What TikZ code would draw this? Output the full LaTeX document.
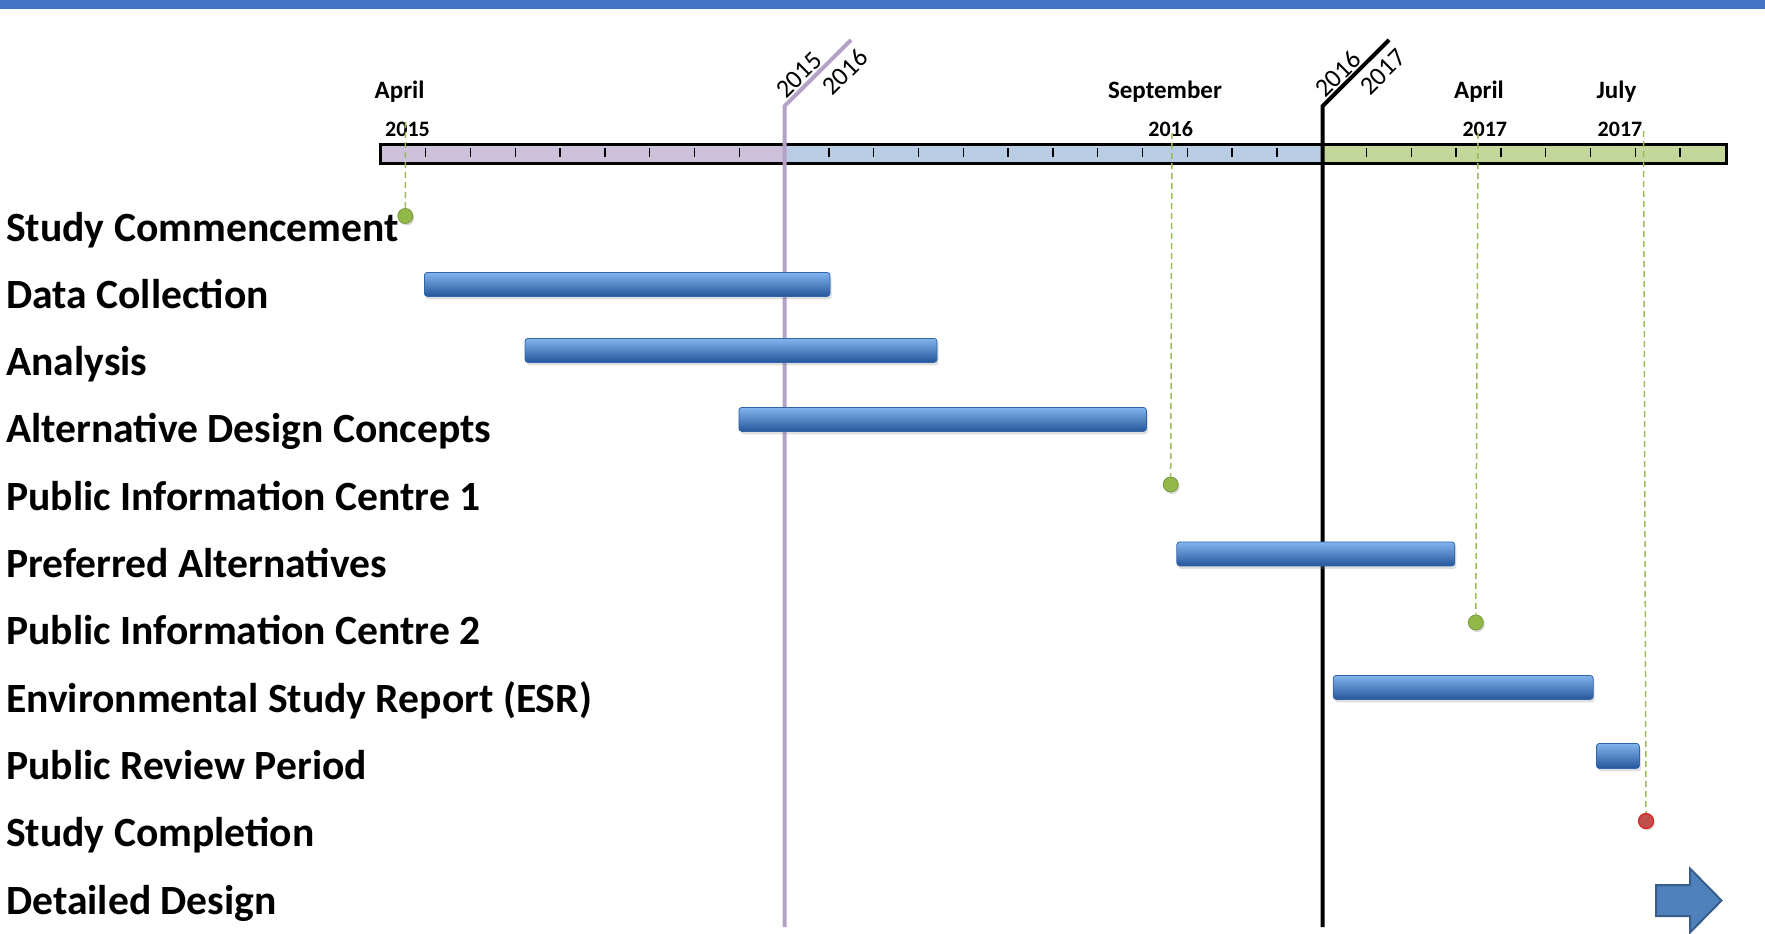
\documentclass[tikz,border=0pt]{standalone}
\usepackage{fontspec}
\setmainfont{Carlito}
\usetikzlibrary{shadows}
\definecolor{stripe}{HTML}{4472C4}
\definecolor{tlpurple}{HTML}{CCC0DA}
\definecolor{tlblue}{HTML}{B8CCE4}
\definecolor{tlgreen}{HTML}{C4D79B}
\definecolor{yrpurple}{HTML}{B3A2C7}
\definecolor{msgreen}{HTML}{92B84A}
\definecolor{msgreendk}{HTML}{76993A}
\definecolor{dashgreen}{HTML}{9BBB59}
\definecolor{msred}{HTML}{C0504D}
\definecolor{msreddk}{HTML}{E02020}
\definecolor{bartop}{RGB}{130,180,238}
\definecolor{barmid}{RGB}{75,135,205}
\definecolor{barbot}{RGB}{38,86,155}
\definecolor{barline}{RGB}{50,100,170}
\definecolor{arrfill}{HTML}{4F81BD}
\definecolor{arrline}{HTML}{385D8A}
\begin{document}
\begin{tikzpicture}[x=1pt,y=-1pt,
  lab/.style={font=\fontsize{41.6}{41.6}\selectfont\bfseries, inner sep=0pt, anchor=base west},
  month/.style={font=\fontsize{25}{25}\selectfont\bfseries, inner sep=0pt},
  yearlab/.style={font=\fontsize{22}{22}\selectfont\bfseries, inner sep=0pt},
  diag/.style={font=\fontsize{26}{26}\selectfont, inner sep=0pt, rotate=45},
  ganttbar/.style={draw=barline, line width=0.8pt, rounded corners=3pt, top color=bartop, middle color=barmid, bottom color=barbot, shading angle=0, inner sep=0pt, anchor=north west, minimum height=24pt,
    drop shadow={shadow xshift=1.5pt, shadow yshift=-3pt, opacity=0.25}},
  msdot/.style={circle, fill=msgreen, draw=msgreendk, line width=0.8pt, minimum size=15pt, inner sep=0pt,
    drop shadow={shadow xshift=1.5pt, shadow yshift=-2pt, opacity=0.3}},
  msend/.style={circle, fill=msred, draw=msreddk, line width=1.2pt, minimum size=15pt, inner sep=0pt,
    drop shadow={shadow xshift=1.5pt, shadow yshift=-2pt, opacity=0.3}},
  guide/.style={draw=dashgreen, line width=1.5pt, dash pattern=on 6pt off 4pt},
  tick/.style={line width=1.3pt}
]
\useasboundingbox (0,0) rectangle (1765,934);
% top stripe
\fill[stripe] (0,0) rectangle (1765,9);

% timeline bar
\fill[tlpurple] (380,144) rectangle (784,163);
\fill[tlblue] (784,144) rectangle (1322,163);
\fill[tlgreen] (1322,144) rectangle (1726,163);
\foreach \m in {1,...,8} {\draw[tick] ({380.9+44.8*\m},148) -- ({380.9+44.8*\m},157);}
\foreach \m in {10,...,20} {\draw[tick] ({380.9+44.8*\m},148) -- ({380.9+44.8*\m},157);}
\foreach \m in {22,...,29} {\draw[tick] ({380.9+44.8*\m},148) -- ({380.9+44.8*\m},157);}
\draw[line width=3pt] (380,144) rectangle (1726,163);

% month / year labels
\node[month] (mApr15) at (399.6,92) {April};
\node[yearlab] (yApr15) at (407.5,129.5) {2015};
\node[month] (mSep16) at (1165,92) {September};
\node[yearlab] (ySep16) at (1170.7,129.5) {2016};
\node[month] (mApr17) at (1479,92) {April};
\node[yearlab] (yApr17) at (1484.8,129.5) {2017};
\node[month] (mJul17) at (1616.5,92) {July};
\node[yearlab] (yJul17) at (1620,129.5) {2017};

% row labels
\foreach \t [count=\i from 0] in {Study Commencement, Data Collection, Analysis, Alternative Design Concepts, Public Information Centre 1, Preferred Alternatives, Public Information Centre 2, Environmental Study Report (ESR), Public Review Period, Study Completion, Detailed Design} {
  \node[lab] (row\i) at (6,{241+67.3*\i}) {\t};
}

% guide line tops
\coordinate (gA) at (405.5,122);
\coordinate (gB) at (1172,133);
\coordinate (gC) at (1478,133);
\coordinate (gD) at (1643.5,131);

% year boundary lines
\coordinate (pBot) at (784.6,927);
\coordinate (pKnee) at (784.6,106);
\coordinate (pTop) at (851,40);
\draw[yrpurple, line width=4pt, line join=miter] (pBot) -- (pKnee) -- (pTop);
\node[diag] (y2015a) at (799,75) {2015};
\node[diag] (y2016a) at (845,72) {2016};

\coordinate (kBot) at (1322.7,927);
\coordinate (kKnee) at (1322.7,106);
\coordinate (kTop) at (1389,40);
\draw[black, line width=4pt, line join=miter] (kBot) -- (kKnee) -- (kTop);
\node[diag] (y2016b) at (1338,74) {2016};
\node[diag] (y2017b) at (1383,72) {2017};

% gantt bars
\node[ganttbar, minimum width=405.6pt] (bData) at (424,272) {};
\node[ganttbar, minimum width=412pt] (bAnal) at (524.6,338) {};
\node[ganttbar, minimum width=407.5pt] (bAlt) at (738.5,407) {};
\node[ganttbar, minimum width=278pt] (bPref) at (1176.4,541.5) {};
\node[ganttbar, minimum width=260pt] (bESR) at (1332.8,675) {};
\node[ganttbar, minimum width=43pt, minimum height=25pt] (bRev) at (1596,743) {};

% milestones
\node[msdot] (mStart) at (405.3,216) {};
\node[msdot] (mPIC1) at (1170.7,484.5) {};
\node[msdot] (mPIC2) at (1475.8,622.5) {};
\node[msend] (mEnd) at (1646,821) {};
\draw[guide] (gA) -- (mStart.north);
\draw[guide] (gB) -- (mPIC1.north);
\draw[guide] (gC) -- (mPIC2.north);
\draw[guide] (gD) -- (mEnd.north);

% detailed design arrow
\draw[fill=arrfill, draw=arrline, line width=2pt, line join=miter]
  (1656,885) -- (1690,885) -- (1690,868.5) -- (1721.5,900.5) -- (1690,932.5) -- (1690,916) -- (1656,916) -- cycle;
\end{tikzpicture}
\end{document}
